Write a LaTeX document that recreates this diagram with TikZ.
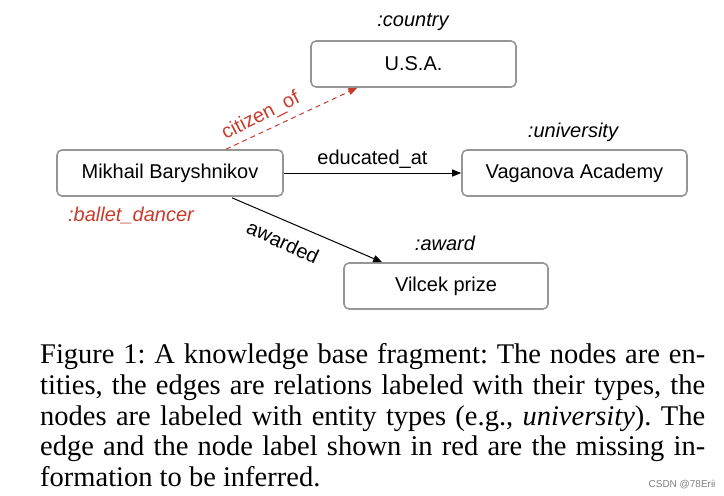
\documentclass[tikz,border=0pt]{standalone}
\usepackage{fontspec}
\setmainfont{Liberation Serif}
\setsansfont{Liberation Sans}
\usetikzlibrary{arrows.meta,calc}
\definecolor{boxgray}{RGB}{150,150,150}
\definecolor{redish}{RGB}{200,60,45}
\tikzset{
  ent/.style={draw=boxgray, line width=1.6pt, rounded corners=5pt, minimum height=46pt, inner sep=0pt, font=\sffamily\fontsize{20}{24}\selectfont},
  typ/.style={font=\sffamily\itshape\fontsize{20}{24}\selectfont},
  rel/.style={font=\sffamily\fontsize{20}{24}\selectfont},
  edge/.style={line width=1pt, -{Triangle[length=9pt,width=7pt]}},
}
\begin{document}
\begin{tikzpicture}[x=1pt,y=-1pt]
\useasboundingbox (0,0) rectangle (724,496);
\node[ent, minimum width=205pt] (usa) at (413.5,64) {U.S.A.};
\node[ent, minimum width=226pt] (mb) at (170,173) {Mikhail Baryshnikov};
\node[ent, minimum width=225pt] (va) at (574.5,173) {Vaganova Academy};
\node[ent, minimum width=204pt] (vp) at (446,286) {Vilcek prize};
\node[typ] (tc) at (413,22) {:country};
\node[typ] (tu) at (573,132) {:university};
\node[typ] (ta) at (445,243) {:award};
\node[typ, text=redish] (tb) at (131,215) {:ballet\_dancer};
\coordinate (cs) at ($(mb.north)+(56,0)$);
\coordinate (ce) at ($(usa.south west)+(47,0)$);
\coordinate (as) at ($(mb.south)+(62,1)$);
\coordinate (ae) at ($(vp.north west)+(39,0)$);
\draw[edge, redish, dash pattern=on 5pt off 4pt] (cs) -- (ce);
\draw[edge] (mb.east) -- node[rel, above=1pt] {educated\_at} (va.west);
\draw[edge] (as) -- (ae);
\node[rel, text=redish, rotate=27] (lc) at (261,116) {citizen\_of};
\node[rel, rotate=-25] (la) at (283,242) {awarded};
\node[anchor=north west, text width=665pt, align=justify, inner sep=0pt, font=\fontsize{28.5}{30.7}\selectfont] (cap) at (40,343.5)
{\frenchspacing Figure 1: A knowledge base fragment: The nodes are en-\linebreak tities, the edges are relations labeled with their types, the\linebreak nodes are labeled with entity types (e.g., \textit{university}). The\linebreak edge and the node label shown in red are the missing in-\linebreak formation to be inferred.};
\node[anchor=south east, font=\sffamily\fontsize{10}{12}\selectfont, text=gray] (wm) at (719,492) {CSDN @78Erii};
\end{tikzpicture}
\end{document}
